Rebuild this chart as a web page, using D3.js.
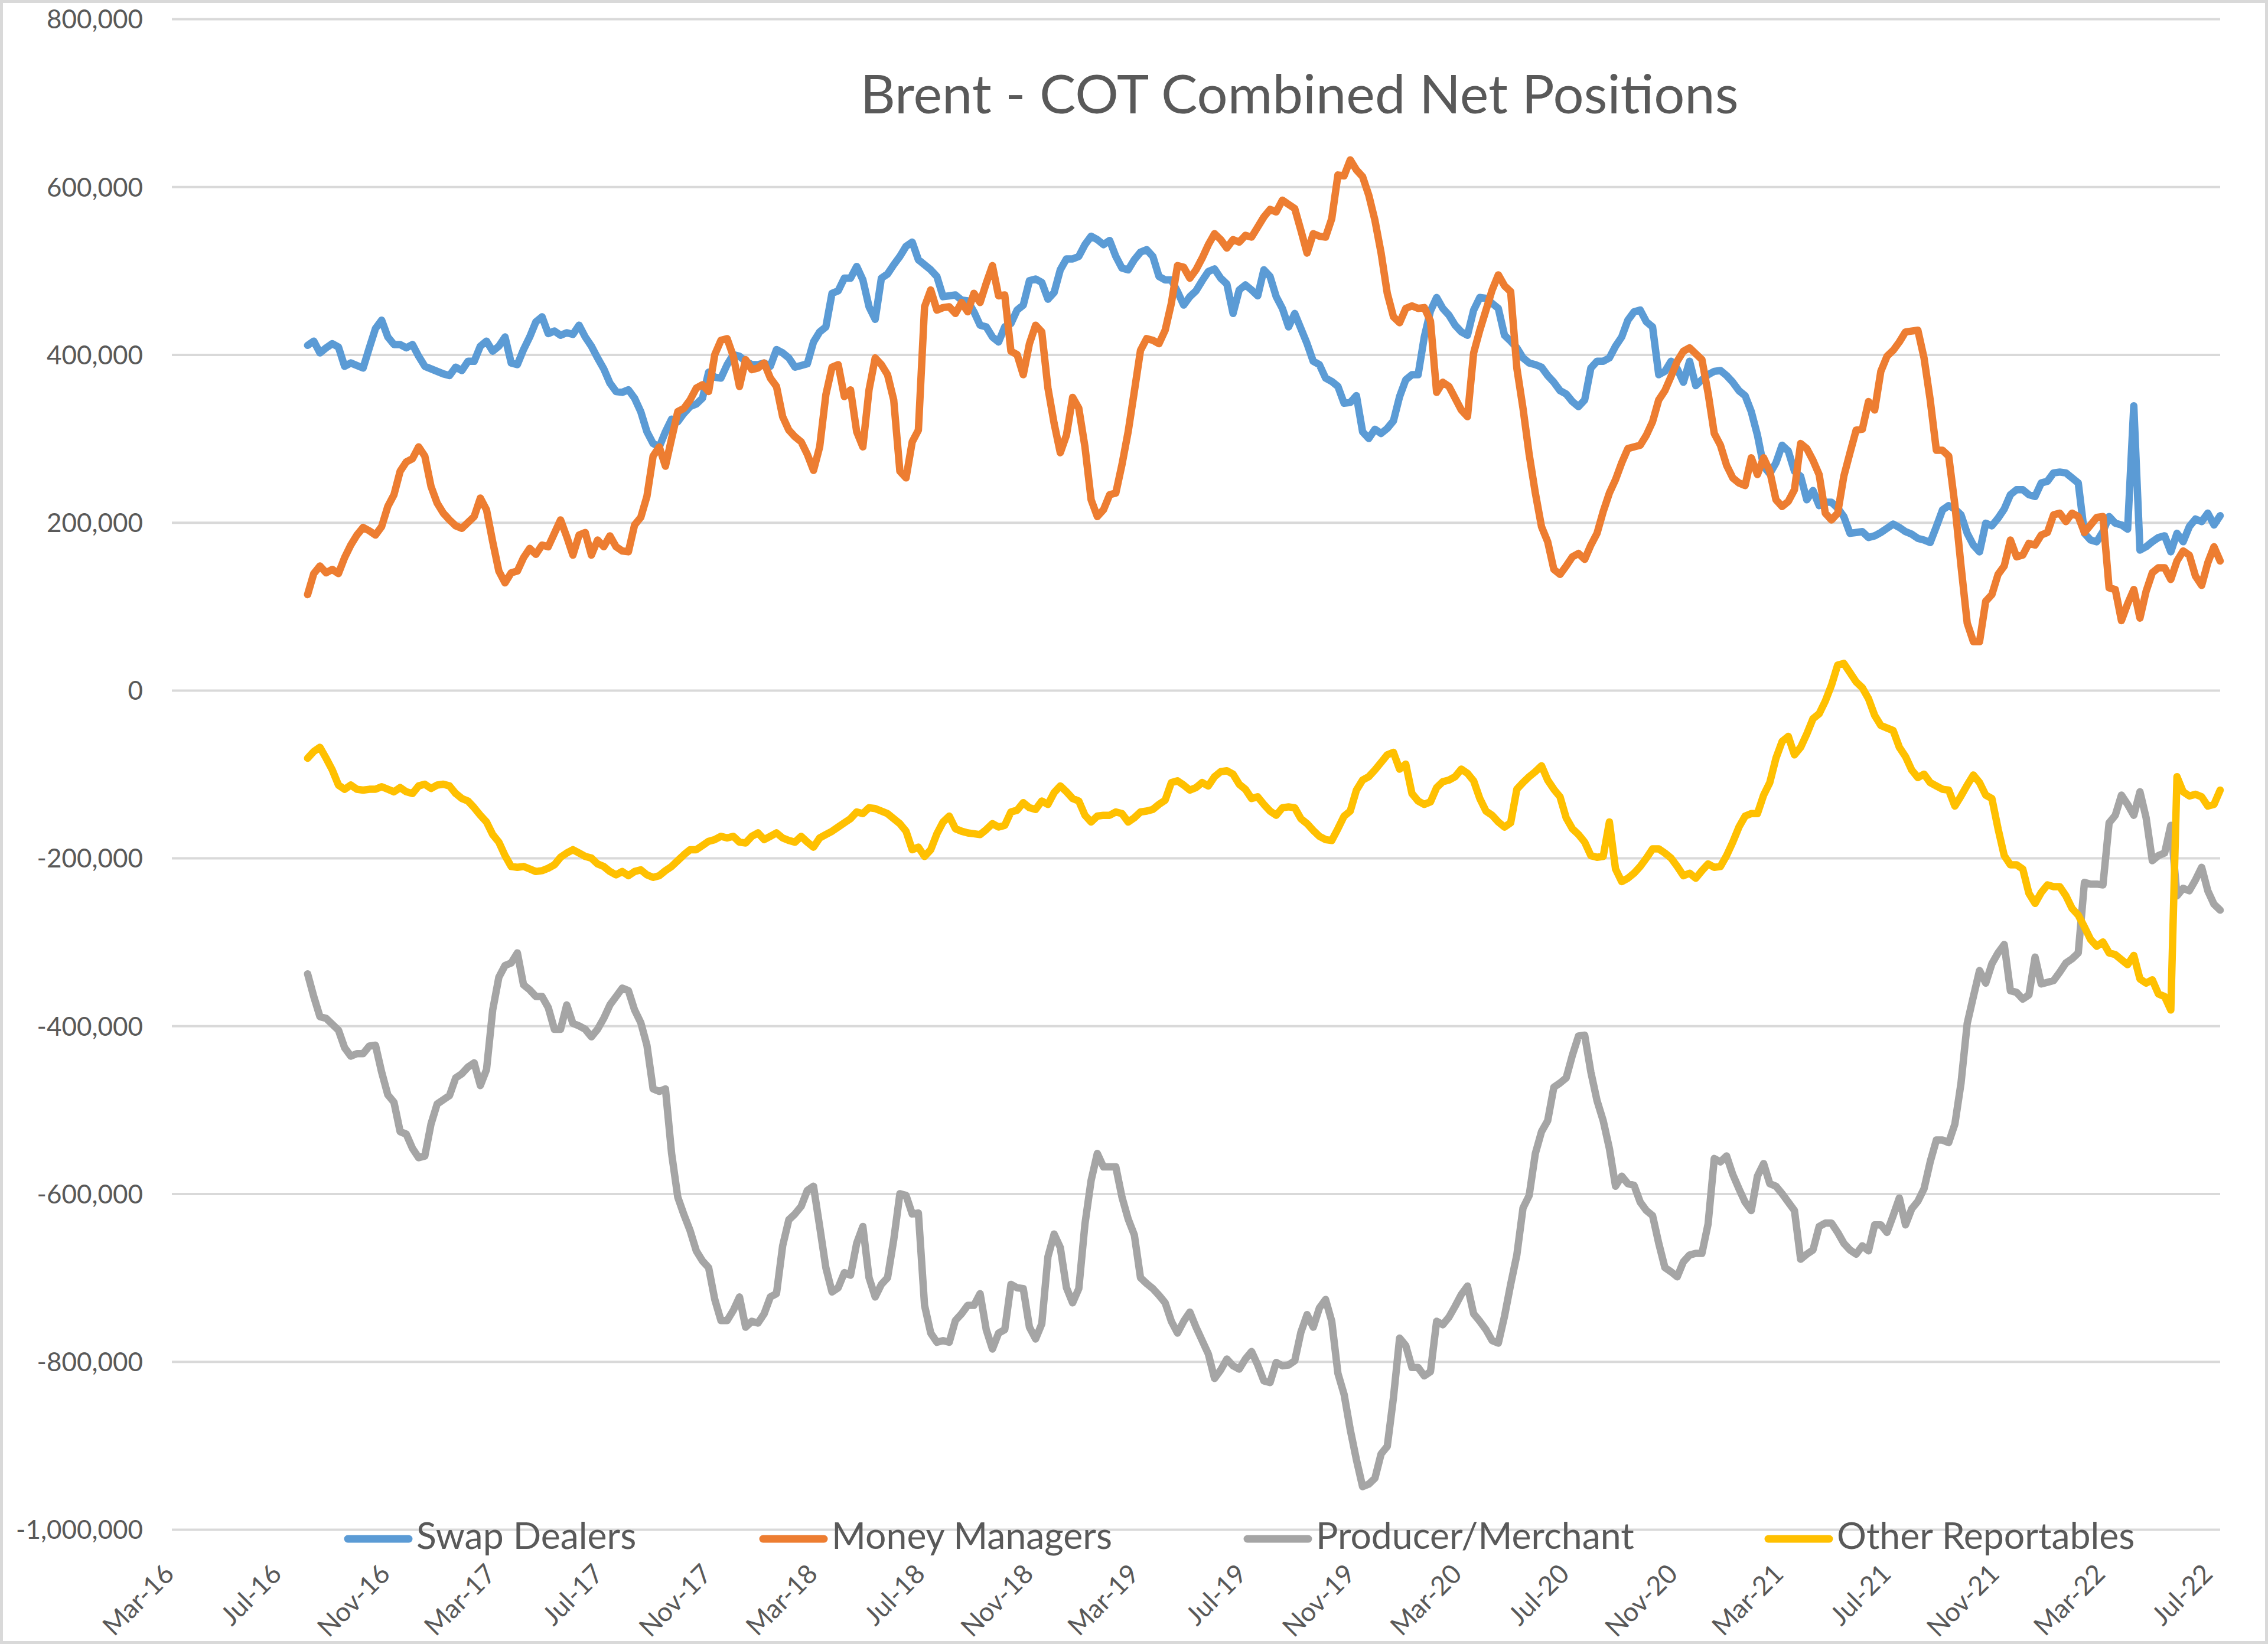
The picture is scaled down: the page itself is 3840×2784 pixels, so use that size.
<!DOCTYPE html>
<html>
<head>
<meta charset="utf-8">
<script src="https://cdn.jsdelivr.net/npm/d3@7"></script>
<style>
html, body { margin: 0; padding: 0; background: #ffffff; }
svg { display: block; }
text { font-family: Lato, "Noto Sans", sans-serif; fill: #595959; }
</style>
</head>
<body>
<svg id="chart" width="3840" height="2784"></svg>
<script>
// ---------------- DATA ----------------
const chartTitle = "Brent - COT Combined Net Positions";
const seriesNames = ["Swap Dealers", "Money Managers", "Producer/Merchant", "Other Reportables"];
const firstReportDate = "2016-08-02";   // weekly COT report dates (Tuesdays)
const axisStartDate = "2016-03-01";
const axisEndDate = "2022-07-12";
const xTickStart = "2016-03-01";        // a label every 4 months
const xTickEnd = "2022-07-01";
const yTickValues = [-1000000, -800000, -600000, -400000, -200000, 0, 200000, 400000, 600000, 800000];
const valueUnit = 1000;                 // series below are in thousands of contracts

const swapDealers = [
 411,416,402,408,413,409,386,390,387,384,
 408,431,441,421,412,412,408,412,398,386,
 383,380,377,375,385,381,392,392,410,416,
 404,410,421,390,388,406,421,439,445,425,
 428,423,426,424,435,421,410,396,383,366,
 356,355,358,348,332,308,294,290,308,323,
 320,330,338,341,348,379,373,372,388,400,
 398,392,388,388,390,386,406,402,396,385,
 387,389,415,427,433,473,476,491,491,505,
 489,457,442,491,496,507,517,529,534,513,
 507,501,493,469,470,471,465,464,451,435,
 433,421,415,433,437,453,459,488,490,486,
 466,474,501,514,514,517,531,541,537,531,
 536,517,503,501,513,522,525,517,493,489,
 489,475,459,469,476,488,499,502,491,484,
 449,477,483,477,470,501,493,469,455,433,
 449,431,413,392,388,372,368,362,342,343,
 351,308,300,311,306,312,321,350,370,376,
 376,421,452,468,455,447,435,427,423,453,
 468,467,461,455,423,416,408,396,390,388,
 385,375,367,357,353,344,338,346,384,392,
 392,396,410,421,441,451,453,439,433,376,
 380,392,383,367,392,363,370,376,380,381,
 375,367,357,351,332,304,267,258,271,292,
 285,261,255,227,238,220,224,224,217,207,
 187,188,189,182,184,188,193,198,194,189,
 186,181,179,176,195,215,220,216,209,187,
 173,165,199,196,205,216,233,239,239,233,
 231,247,249,259,260,259,253,247,187,179,
 177,189,207,199,197,192,339,167,171,177,
 182,184,165,187,177,195,204,201,211,197,208
];

const moneyManagers = [
 114,139,148,140,144,139,158,173,185,194,
 190,185,195,219,233,261,272,276,290,279,
 243,223,211,203,196,193,200,207,229,215,
 177,142,128,140,142,158,169,162,173,171,
 187,203,183,161,185,188,161,179,171,184,
 171,166,165,197,206,231,279,290,267,300,
 332,336,346,360,364,356,400,417,419,398,
 362,394,382,384,390,372,362,326,310,302,
 296,281,262,290,352,385,388,350,358,308,
 290,358,396,388,376,346,261,253,296,310,
 457,477,453,456,457,449,462,451,473,462,
 485,506,470,471,404,400,376,413,435,427,
 360,318,283,304,349,336,290,227,207,215,
 233,235,269,308,356,405,419,417,413,429,
 461,506,504,491,501,515,531,544,537,527,
 537,534,542,540,552,564,573,570,584,579,
 574,548,521,544,541,540,562,614,613,632,
 620,612,590,560,521,473,445,438,455,458,
 455,456,440,355,367,362,348,334,326,402,
 429,453,477,495,482,475,384,336,281,235,
 195,177,144,138,148,159,163,156,173,187,
 213,235,251,271,288,290,292,304,320,346,
 357,374,392,404,408,401,394,354,306,292,
 268,253,247,244,277,257,277,261,227,219,
 225,239,294,288,274,257,211,203,211,255,
 283,310,311,344,334,380,398,405,415,427,
 428,429,396,346,286,286,279,221,148,80,
 58,58,106,114,138,148,179,159,161,175,
 173,185,188,209,211,201,211,207,188,197,
 206,207,122,120,83,103,120,86,118,140,
 146,146,132,154,166,161,136,125,152,171,154
];

const producerMerchant = [
 -338,-365,-389,-391,-398,-405,-426,-436,-433,-433,
 -424,-423,-455,-482,-491,-526,-529,-546,-557,-555,
 -517,-493,-488,-483,-462,-457,-449,-444,-471,-452,
 -381,-342,-328,-325,-313,-351,-357,-365,-365,-378,
 -404,-404,-375,-397,-400,-404,-413,-404,-391,-375,
 -365,-355,-358,-381,-396,-423,-475,-478,-475,-552,
 -604,-625,-644,-668,-680,-688,-726,-751,-751,-739,
 -723,-759,-752,-754,-743,-723,-719,-662,-631,-624,
 -615,-596,-591,-639,-688,-717,-712,-694,-697,-659,
 -639,-700,-723,-708,-700,-655,-600,-602,-624,-623,
 -733,-766,-777,-775,-777,-751,-743,-733,-733,-719,
 -762,-785,-766,-762,-708,-712,-713,-759,-773,-755,
 -675,-648,-664,-712,-730,-713,-636,-584,-552,-568,
 -568,-568,-604,-630,-649,-700,-707,-713,-721,-730,
 -752,-766,-752,-741,-759,-775,-791,-820,-810,-797,
 -805,-809,-797,-788,-804,-823,-825,-801,-805,-804,
 -799,-765,-744,-759,-736,-726,-752,-814,-839,-881,
 -917,-949,-946,-939,-910,-901,-843,-772,-781,-807,
 -807,-817,-812,-752,-756,-747,-734,-720,-710,-743,
 -752,-762,-775,-778,-746,-708,-673,-617,-602,-552,
 -526,-513,-473,-468,-462,-435,-412,-411,-455,-489,
 -513,-546,-591,-579,-588,-590,-610,-620,-626,-659,
 -688,-693,-699,-681,-673,-671,-671,-636,-558,-562,
 -555,-577,-594,-610,-620,-579,-564,-588,-591,-600,
 -610,-620,-678,-672,-667,-639,-635,-635,-646,-659,
 -667,-672,-662,-668,-637,-637,-646,-626,-605,-637,
 -618,-609,-594,-562,-536,-536,-539,-517,-468,-397,
 -365,-334,-349,-326,-313,-303,-358,-360,-368,-363,
 -318,-350,-348,-346,-336,-325,-320,-313,-229,-231,
 -231,-232,-158,-149,-125,-136,-149,-121,-152,-203,
 -197,-194,-161,-245,-236,-239,-226,-211,-239,-255,-262
];

const otherReportables = [
 -81,-73,-68,-81,-95,-113,-118,-113,-118,-119,
 -118,-118,-115,-118,-121,-116,-121,-123,-114,-112,
 -117,-113,-112,-114,-123,-129,-132,-140,-149,-157,
 -172,-181,-197,-210,-211,-210,-213,-216,-215,-212,
 -208,-199,-194,-190,-194,-198,-200,-207,-210,-216,
 -220,-216,-221,-216,-214,-220,-223,-221,-215,-210,
 -203,-196,-190,-190,-185,-180,-178,-174,-176,-174,
 -181,-182,-174,-170,-178,-174,-170,-176,-179,-181,
 -174,-181,-187,-176,-172,-168,-163,-158,-153,-145,
 -147,-140,-141,-144,-147,-153,-159,-168,-190,-187,
 -198,-190,-171,-157,-150,-165,-168,-170,-171,-172,
 -166,-159,-163,-161,-145,-143,-134,-140,-142,-132,
 -136,-122,-114,-121,-129,-132,-149,-157,-150,-149,
 -149,-145,-147,-157,-152,-145,-144,-142,-136,-131,
 -110,-108,-113,-119,-116,-110,-114,-103,-97,-96,
 -100,-112,-118,-129,-127,-136,-144,-149,-140,-139,
 -140,-153,-159,-167,-174,-178,-179,-165,-150,-144,
 -119,-107,-103,-95,-86,-77,-74,-94,-88,-123,
 -132,-136,-133,-116,-109,-107,-103,-94,-99,-108,
 -129,-144,-149,-157,-163,-158,-118,-110,-103,-97,
 -90,-107,-118,-127,-152,-165,-172,-181,-197,-199,
 -198,-157,-213,-228,-224,-218,-210,-200,-189,-189,
 -194,-200,-210,-221,-218,-224,-215,-207,-211,-210,
 -197,-181,-163,-150,-147,-147,-125,-110,-81,-61,
 -55,-77,-68,-52,-34,-28,-13,6,30,32,
 21,10,3,-10,-30,-42,-45,-48,-68,-79,
 -95,-104,-100,-110,-114,-118,-119,-138,-126,-113,
 -101,-110,-125,-129,-165,-197,-208,-208,-213,-242,
 -254,-241,-232,-234,-234,-245,-260,-268,-282,-297,
 -305,-300,-313,-315,-321,-327,-316,-344,-349,-345,
 -362,-365,-381,-103,-121,-126,-124,-127,-138,-136,-119
];

// ---------------- LAYOUT / STYLE ----------------
const W = 3840, H = 2784;
const plot = { left: 291, right: 3759, top: 32, bottom: 2590 };
const colors = ["#5B9BD5", "#ED7D31", "#A5A5A5", "#FFC000"];
const legendX = [583, 1286, 2106, 2988];

const svg = d3.select("#chart");
const parse = d3.utcParse("%Y-%m-%d");

const x = d3.scaleUtc()
  .domain([parse(axisStartDate), parse(axisEndDate)])
  .range([plot.left, plot.right]);
const y = d3.scaleLinear()
  .domain([-1000000, 800000])
  .range([plot.bottom, plot.top]);

const locale = d3.formatLocale({ decimal: ".", thousands: ",", grouping: [3], currency: ["$", ""], minus: "-" });
const fmt = locale.format(",");

// background + chart border
svg.append("rect").attr("x", 0).attr("y", 0).attr("width", W).attr("height", H).attr("fill", "#ffffff");
svg.append("rect").attr("x", 2.5).attr("y", 2.5).attr("width", W - 5).attr("height", H - 5)
  .attr("fill", "none").attr("stroke", "#d9d9d9").attr("stroke-width", 5);

// gridlines
const grid = svg.append("g").attr("transform", `translate(${plot.left},0)`)
  .call(d3.axisLeft(y).tickValues(yTickValues).tickSize(-(plot.right - plot.left)).tickFormat(""));
grid.select(".domain").remove();
grid.selectAll("line").attr("stroke", "#d9d9d9").attr("stroke-width", 4);

// y labels
const yAxis = svg.append("g").attr("transform", `translate(${plot.left},0)`)
  .call(d3.axisLeft(y).tickValues(yTickValues).tickSize(0).tickPadding(49).tickFormat(fmt));
yAxis.select(".domain").remove();
yAxis.selectAll("text").attr("font-size", 44).attr("fill", "#595959")
  .attr("font-family", "Lato, 'Noto Sans', sans-serif").attr("dy", "0.36em");

// x labels (rotated)
const xTicks = d3.utcMonth.range(parse(xTickStart), d3.utcDay.offset(parse(xTickEnd), 1), 4);
const xAxis = svg.append("g").attr("transform", `translate(0,${plot.bottom})`)
  .call(d3.axisBottom(x).tickValues(xTicks).tickSize(0).tickFormat(d3.utcFormat("%b-%y")));
xAxis.select(".domain").remove();
xAxis.selectAll("text")
  .attr("font-size", 45).attr("fill", "#595959")
  .attr("font-family", "Lato, 'Noto Sans', sans-serif")
  .attr("text-anchor", "end")
  .attr("x", 6).attr("y", 78).attr("dy", 0)
  .attr("transform", "rotate(-45, 6, 78)");

// series
const allSeries = [swapDealers, moneyManagers, producerMerchant, otherReportables];
const start = parse(firstReportDate);
const line = d3.line()
  .x(d => x(d.date))
  .y(d => y(d.value));

allSeries.forEach((vals, si) => {
  const pts = vals.map((v, i) => ({ date: d3.utcDay.offset(start, 7 * i), value: v * valueUnit }));
  svg.append("path")
    .datum(pts)
    .attr("d", line)
    .attr("fill", "none")
    .attr("stroke", colors[si])
    .attr("stroke-width", 12.5)
    .attr("stroke-linejoin", "round")
    .attr("stroke-linecap", "round");
});

// title
svg.append("text")
  .attr("x", 2200).attr("y", 192)
  .attr("text-anchor", "middle")
  .attr("font-size", 92)
  .attr("fill", "#595959")
  .text(chartTitle);

// legend
const legend = svg.append("g");
seriesNames.forEach((name, i) => {
  const g = legend.append("g").attr("transform", `translate(${legendX[i]},2606)`);
  g.append("line").attr("x1", 6).attr("x2", 109).attr("y1", 0).attr("y2", 0)
    .attr("stroke", colors[i]).attr("stroke-width", 13).attr("stroke-linecap", "round");
  g.append("text").attr("x", 122).attr("y", 17)
    .attr("font-size", 62.5).attr("fill", "#595959")
    .text(name);
});
</script>
</body>
</html>
